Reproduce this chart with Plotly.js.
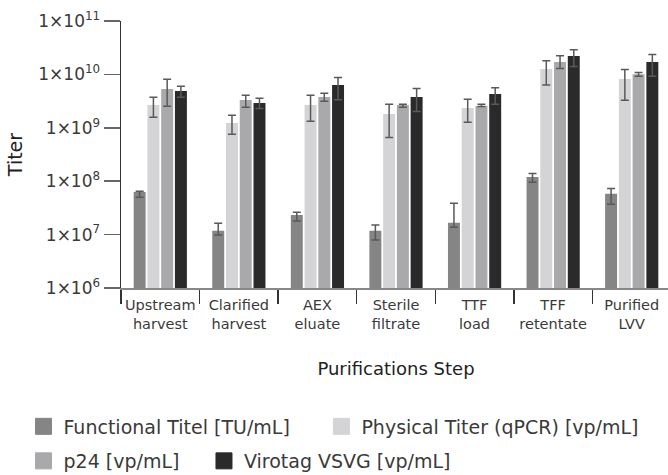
<!DOCTYPE html>
<html>
<head>
<meta charset="utf-8">
<script src="https://cdn.plot.ly/plotly-3.0.1.min.js"></script>
<style>
  html, body { margin: 0; padding: 0; overflow: hidden; background: #fff; }
  #chart { width: 671px; height: 475px; }
</style>
</head>
<body>
<div id="chart"></div>
<script>
// ---- data ----
const categories = ['Upstream<br>harvest', 'Clarified<br>harvest', 'AEX<br>eluate', 'Sterile<br>filtrate', 'TTF<br>load', 'TFF<br>retentate', 'Purified<br>LVV'];

const seriesNames = ['Functional Titel [TU/mL]', 'Physical Titer (qPCR) [vp/mL]', 'p24 [vp/mL]', 'Virotag VSVG [vp/mL]'];

const functional      = [6.3e7, 1.18e7, 2.34e7, 1.18e7, 1.66e7, 1.20e8, 5.8e7];
const functionalPlus  = [0.2e7, 0.46e7, 0.29e7, 0.33e7, 2.2e7, 0.19e8, 1.48e7];
const functionalMinus = [1.3e7, 0.2e7, 0.55e7, 0.39e7, 0.28e7, 0.24e8, 2.08e7];

const physical      = [2.67e9, 1.23e9, 2.67e9, 1.81e9, 2.34e9, 1.26e10, 8.17e9];
const physicalPlus  = [1.05e9, 0.48e9, 1.38e9, 0.94e9, 1.07e9, 0.54e10, 4.2e9];
const physicalMinus = [1.1e9, 0.47e9, 1.35e9, 1.15e9, 1.07e9, 0.63e10, 4.9e9];

const p24      = [5.31e9, 3.31e9, 3.77e9, 2.67e9, 2.55e9, 1.70e10, 1.01e10];
const p24Plus  = [2.76e9, 0.74e9, 0.65e9, 0.08e9, 0.2e9, 0.53e10, 0.08e10];
const p24Minus = [2.79e9, 0.89e9, 0.64e9, 0.25e9, 0.05e9, 0.41e10, 0.09e10];

const virotag      = [4.87e9, 2.91e9, 6.31e9, 3.77e9, 4.29e9, 2.20e10, 1.70e10];
const virotagPlus  = [1.1e9, 0.65e9, 2.48e9, 1.7e9, 1.33e9, 0.68e10, 0.67e10];
const virotagMinus = [1.15e9, 0.6e9, 2.96e9, 1.74e9, 1.54e9, 0.79e10, 0.78e10];

const yTickVals = [1e6, 1e7, 1e8, 1e9, 1e10, 1e11];
const yTickText = ['1×10<sup>6</sup>', '1×10<sup>7</sup>', '1×10<sup>8</sup>', '1×10<sup>9</sup>', '1×10<sup>10</sup>', '1×10<sup>11</sup>'];

// ---- styling ----
const colors = ['#858585', '#d4d4d6', '#a9a9ab', '#2b2a2b'];
const FONT = '"DejaVu Sans", sans-serif';

const seriesData = [
  [functional, functionalPlus, functionalMinus],
  [physical, physicalPlus, physicalMinus],
  [p24, p24Plus, p24Minus],
  [virotag, virotagPlus, virotagMinus]
];

// legend placement (container fractions) for each series entry
const legendIds = ['legend', 'legend2', 'legend3', 'legend4'];
const legendPos = [[0.035, 1 - 426.5 / 475], [0.479, 1 - 426.5 / 475], [0.035, 1 - 461 / 475], [0.304, 1 - 461 / 475]];

const traces = [];
seriesData.forEach((s, i) => {
  traces.push({
    type: 'bar',
    name: seriesNames[i],
    x: categories,
    y: s[0],
    marker: { color: colors[i] },
    error_y: {
      type: 'data', symmetric: false,
      array: s[1], arrayminus: s[2],
      color: '#595959', thickness: 1.5, width: 4
    },
    showlegend: false,
    hoverinfo: 'x+y'
  });
});
// legend entries
seriesNames.forEach((n, i) => {
  traces.push({
    type: 'scatter', mode: 'markers',
    name: n, x: [null], y: [null],
    marker: { symbol: 'square', size: 16, color: colors[i], line: { width: 1, color: colors[i] } },
    legend: legendIds[i],
    showlegend: true
  });
});

const layout = {
  width: 671, height: 475,
  margin: { l: 121, r: 0, t: 21, b: 187 },
  paper_bgcolor: '#fff', plot_bgcolor: '#fff',
  font: { family: FONT, color: '#333' },
  barmode: 'group',
  bargap: 0.3,
  bargroupgap: 0.13,
  xaxis: {
    type: 'category',
    range: [-0.5, 6.5],
    tickson: 'boundaries',
    tickangle: 0,
    ticks: 'outside', ticklen: 14, tickwidth: 1.5, tickcolor: '#333',
    ticklabelstandoff: 3,
    showline: true, linecolor: '#888', linewidth: 2,
    showgrid: false, zeroline: false,
    tickfont: { family: FONT, size: 14.5, color: '#3a3a3a' },
    title: { text: 'Purifications Step', font: { family: FONT, size: 18, color: '#222' }, standoff: 31 },
    fixedrange: true
  },
  yaxis: {
    type: 'log',
    range: [6, 11],
    tickmode: 'array', tickvals: yTickVals, ticktext: yTickText,
    ticks: 'outside', ticklen: 16, tickwidth: 1.5, tickcolor: '#666',
    showline: true, linecolor: '#333', linewidth: 1.5,
    showgrid: false, zeroline: false,
    tickfont: { family: FONT, size: 17, color: '#3a3a3a' },
    title: { text: 'Titer', font: { family: FONT, size: 19, color: '#222' }, standoff: 10 },
    fixedrange: true
  }
};
legendIds.forEach((id, i) => {
  layout[id] = {
    orientation: 'h',
    xref: 'container', yref: 'container',
    x: legendPos[i][0], y: legendPos[i][1],
    xanchor: 'left', yanchor: 'middle',
    font: { family: FONT, size: 19, color: '#3a3a3a' },
    bgcolor: 'rgba(0,0,0,0)',
    itemclick: false, itemdoubleclick: false
  };
});

Plotly.newPlot('chart', traces, layout, { displayModeBar: false, staticPlot: true });
</script>
</body>
</html>
